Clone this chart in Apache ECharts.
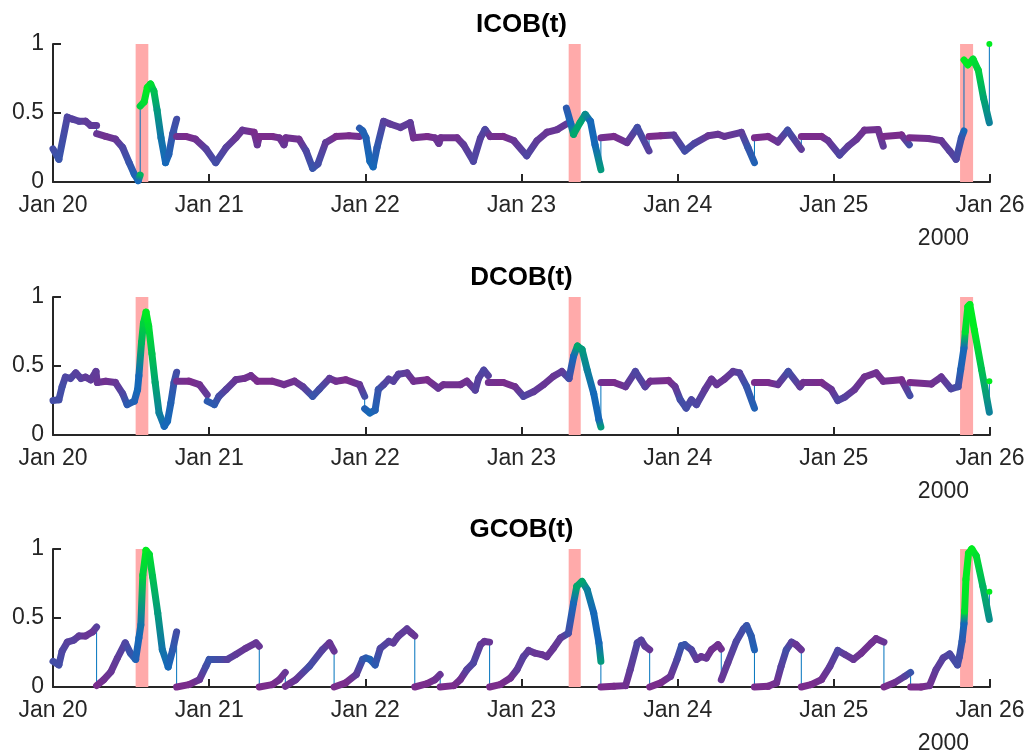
<!DOCTYPE html>
<html>
<head>
<meta charset="utf-8">
<script src="https://cdn.jsdelivr.net/npm/echarts@6/dist/echarts.min.js"></script>
<style>
  html, body { margin: 0; padding: 0; background: #ffffff; }
  #chart { width: 1032px; height: 755px; }
</style>
</head>
<body>
<div id="chart"></div>
<script>
// Hours since Jan 20 2000 00:00, index value, colour tone (0 = purple ... 1 = green).
// A repeated hour marks a discontinuity: only the thin connecting line spans it.
const icobPoints = [
  [0, 0.24, 0.3], [0.9, 0.165, 0.35], [2.2, 0.47, 0.25], [3.0, 0.455, 0.2], [4.0, 0.44, 0.2],
  [5.0, 0.44, 0.15], [5.8, 0.41, 0.15], [6.7, 0.41, 0.15], [6.7, 0.35, 0.1], [8.1, 0.33, 0.05],
  [9.6, 0.31, 0.1], [10.7, 0.25, 0.25], [11.7, 0.14, 0.35], [12.5, 0.056, 0.45], [13.1, 0.01, 0.5],
  [13.4, 0.05, 0.8], [13.4, 0.55, 0.9], [14.0, 0.58, 0.95], [14.5, 0.685, 1], [15.0, 0.71, 0.95],
  [15.5, 0.66, 0.85], [16.0, 0.52, 0.7], [16.6, 0.32, 0.55], [17.3, 0.14, 0.5], [17.8, 0.2, 0.45],
  [18.4, 0.35, 0.35], [19.0, 0.455, 0.3], [19.0, 0.33, 0.05], [20.4, 0.33, 0], [21.9, 0.31, 0.05],
  [23.5, 0.24, 0.2], [25.0, 0.14, 0.3], [26.6, 0.25, 0.2], [28.1, 0.32, 0.1], [29.1, 0.375, 0.1],
  [30.9, 0.36, 0], [31.4, 0.27, 0.1], [31.7, 0.33, 0], [33.7, 0.33, 0], [34.8, 0.32, 0.05],
  [35.5, 0.27, 0.1], [35.8, 0.32, 0.05], [37.8, 0.31, 0.05], [38.9, 0.225, 0.25], [39.9, 0.1, 0.35],
  [40.7, 0.13, 0.3], [41.9, 0.285, 0.15], [43.5, 0.33, 0], [45.5, 0.335, 0], [47.1, 0.33, 0.05],
  [47.1, 0.39, 0.4], [47.6, 0.37, 0.45], [48.1, 0.32, 0.45], [48.7, 0.15, 0.5], [49.2, 0.11, 0.5],
  [49.8, 0.25, 0.4], [50.8, 0.44, 0.2], [51.8, 0.42, 0.15], [53.4, 0.395, 0.15], [54.9, 0.43, 0.15],
  [55.4, 0.32, 0.05], [57.5, 0.33, 0], [58.7, 0.32, 0.05], [59.3, 0.28, 0.1], [59.6, 0.32, 0.05],
  [62.1, 0.32, 0.05], [63.1, 0.27, 0.15], [64.6, 0.15, 0.25], [65.7, 0.32, 0.2], [66.4, 0.38, 0.25],
  [67.2, 0.33, 0.05], [69.2, 0.33, 0], [70.8, 0.30, 0.1], [72.8, 0.19, 0.25], [74.4, 0.30, 0.15],
  [75.9, 0.36, 0.1], [77.5, 0.38, 0.1], [78.9, 0.42, 0.15], [78.9, 0.535, 0.4], [79.6, 0.42, 0.5],
  [80.0, 0.345, 0.75], [81.0, 0.43, 0.75], [81.8, 0.49, 0.65], [82.6, 0.44, 0.5], [83.3, 0.27, 0.5],
  [84.2, 0.09, 0.7], [84.2, 0.32, 0.05], [86.2, 0.33, 0], [88.2, 0.285, 0.1], [89.8, 0.395, 0.3],
  [91.6, 0.225, 0.2], [91.6, 0.33, 0], [93.4, 0.335, 0], [95.4, 0.34, 0.15], [97.1, 0.225, 0.3],
  [98.6, 0.28, 0.25], [100.7, 0.335, 0.1], [102.2, 0.346, 0.1], [103.2, 0.33, 0.1], [105.8, 0.36, 0.15],
  [106.8, 0.25, 0.35], [107.8, 0.14, 0.45], [107.8, 0.32, 0], [109.9, 0.33, 0], [111.4, 0.29, 0.1],
  [112.9, 0.375, 0.3], [115.0, 0.237, 0.15], [115.0, 0.33, 0], [118.1, 0.33, 0], [119.1, 0.30, 0.1],
  [120.9, 0.196, 0.25], [122.2, 0.26, 0.15], [123.5, 0.31, 0.1], [124.7, 0.375, 0.05], [126.8, 0.38, 0.05],
  [127.6, 0.26, 0.15], [127.6, 0.33, 0], [130.4, 0.34, 0], [131.6, 0.27, 0.3], [131.6, 0.32, 0],
  [134.5, 0.315, 0.05], [136.5, 0.30, 0.1], [137.8, 0.225, 0.2], [138.8, 0.165, 0.25], [139.6, 0.32, 0.35],
  [140.0, 0.37, 0.5], [140.0, 0.885, 1], [140.6, 0.85, 1], [141.4, 0.89, 0.95], [142.2, 0.81, 0.9],
  [143.0, 0.61, 0.75], [143.9, 0.43, 0.6], [143.9, 1.0, 1]
];

const dcobPoints = [
  [0, 0.25, 0.3], [0.9, 0.255, 0.3], [1.4, 0.35, 0.3], [1.9, 0.42, 0.25], [2.7, 0.41, 0.25],
  [3.5, 0.45, 0.2], [4.3, 0.41, 0.2], [5.0, 0.42, 0.15], [5.8, 0.40, 0.15], [6.6, 0.46, 0.15],
  [6.8, 0.38, 0.1], [8.1, 0.39, 0.05], [9.6, 0.38, 0.1], [10.7, 0.30, 0.25], [11.4, 0.22, 0.4],
  [12.5, 0.245, 0.45], [13.0, 0.33, 0.5], [13.2, 0.43, 0.5], [13.6, 0.67, 0.8], [13.9, 0.81, 0.9],
  [14.3, 0.89, 1], [14.7, 0.79, 0.95], [15.2, 0.59, 0.85], [15.7, 0.38, 0.75], [16.3, 0.16, 0.6],
  [17.1, 0.063, 0.5], [17.6, 0.10, 0.5], [18.1, 0.23, 0.45], [18.6, 0.38, 0.35], [19.0, 0.455, 0.3],
  [19.0, 0.39, 0.05], [20.9, 0.39, 0], [22.5, 0.365, 0.05], [23.7, 0.29, 0.15], [23.7, 0.245, 0.4],
  [24.8, 0.22, 0.4], [25.5, 0.28, 0.3], [26.6, 0.33, 0.2], [28.1, 0.40, 0.1], [29.4, 0.41, 0.05],
  [30.4, 0.43, 0.05], [31.4, 0.39, 0], [33.7, 0.39, 0], [35.5, 0.365, 0.05], [37.1, 0.39, 0.05],
  [38.4, 0.35, 0.15], [39.9, 0.28, 0.35], [40.9, 0.33, 0.3], [42.5, 0.41, 0.15], [43.5, 0.39, 0.05],
  [45.0, 0.40, 0], [47.1, 0.365, 0.1], [47.9, 0.28, 0.3], [47.9, 0.19, 0.45], [48.7, 0.16, 0.5],
  [49.5, 0.18, 0.45], [50.0, 0.33, 0.35], [50.8, 0.365, 0.25], [51.6, 0.405, 0.2], [52.3, 0.39, 0.2],
  [53.1, 0.44, 0.2], [54.4, 0.45, 0.15], [55.4, 0.39, 0.05], [57.5, 0.40, 0], [59.2, 0.34, 0.1],
  [60.0, 0.365, 0.05], [62.6, 0.365, 0.05], [63.6, 0.39, 0.05], [64.9, 0.325, 0.2], [65.4, 0.41, 0.2],
  [66.2, 0.47, 0.25], [66.9, 0.43, 0.2], [66.9, 0.38, 0.05], [69.2, 0.38, 0], [71.0, 0.35, 0.05],
  [72.3, 0.28, 0.25], [73.9, 0.315, 0.15], [75.4, 0.365, 0.1], [76.9, 0.425, 0.1], [78.2, 0.46, 0.15],
  [79.3, 0.41, 0.3], [80.0, 0.57, 0.5], [80.6, 0.645, 0.75], [81.3, 0.62, 0.7], [82.1, 0.47, 0.6],
  [83.1, 0.30, 0.5], [83.9, 0.11, 0.5], [84.2, 0.058, 0.7], [84.2, 0.38, 0.05], [86.2, 0.38, 0],
  [88.0, 0.35, 0.1], [89.5, 0.46, 0.25], [91.0, 0.35, 0.2], [91.8, 0.39, 0.05], [94.6, 0.395, 0],
  [95.6, 0.35, 0.1], [96.4, 0.255, 0.3], [97.3, 0.195, 0.3], [98.1, 0.255, 0.25], [98.9, 0.22, 0.25],
  [100.2, 0.33, 0.15], [101.2, 0.405, 0.1], [102.0, 0.365, 0.1], [103.2, 0.405, 0.1], [104.5, 0.46, 0.15],
  [105.5, 0.45, 0.2], [106.6, 0.35, 0.35], [107.8, 0.195, 0.45], [107.8, 0.38, 0], [109.9, 0.38, 0],
  [111.4, 0.365, 0.1], [113.0, 0.46, 0.3], [114.8, 0.35, 0.15], [115.3, 0.38, 0.05], [118.1, 0.38, 0],
  [119.6, 0.33, 0.1], [120.6, 0.25, 0.25], [121.7, 0.275, 0.2], [123.2, 0.33, 0.1], [124.7, 0.42, 0.05],
  [126.5, 0.45, 0.05], [127.6, 0.39, 0.05], [130.4, 0.40, 0], [131.7, 0.285, 0.3], [131.7, 0.38, 0],
  [135.0, 0.37, 0.05], [136.5, 0.42, 0.1], [138.0, 0.335, 0.25], [139.1, 0.35, 0.3], [139.5, 0.475, 0.45],
  [140.0, 0.63, 0.5], [140.2, 0.75, 0.95], [140.6, 0.93, 1], [140.9, 0.945, 1], [141.6, 0.76, 1],
  [142.7, 0.475, 0.85], [143.9, 0.165, 0.6], [143.9, 0.39, 1]
];

const gcobPoints = [
  [0, 0.186, 0.3], [0.9, 0.16, 0.3], [1.4, 0.26, 0.25], [2.2, 0.325, 0.2], [3.2, 0.34, 0.2],
  [4.0, 0.37, 0.15], [5.0, 0.37, 0.1], [6.1, 0.40, 0.1], [6.7, 0.435, 0.2], [6.7, 0.01, 0],
  [7.8, 0.053, 0.05], [8.9, 0.11, 0.1], [9.9, 0.21, 0.15], [11.1, 0.32, 0.25], [11.9, 0.245, 0.35],
  [12.7, 0.20, 0.45], [13.2, 0.355, 0.5], [13.5, 0.45, 0.55], [13.8, 0.81, 0.9], [14.3, 0.99, 1],
  [14.8, 0.96, 0.95], [15.3, 0.80, 0.85], [16.1, 0.536, 0.7], [16.8, 0.27, 0.55], [17.7, 0.145, 0.5],
  [18.4, 0.27, 0.4], [19.0, 0.40, 0.3], [19.0, 0.0, 0], [20.9, 0.017, 0], [22.5, 0.053, 0.1],
  [23.5, 0.15, 0.3], [24.0, 0.20, 0.35], [25.5, 0.20, 0.3], [26.8, 0.20, 0.2], [28.1, 0.235, 0.15],
  [29.6, 0.28, 0.1], [31.2, 0.32, 0.1], [31.7, 0.295, 0.1], [31.7, 0.0, 0], [33.7, 0.017, 0],
  [34.8, 0.053, 0.05], [35.7, 0.106, 0.1], [35.7, 0.005, 0.05], [37.3, 0.053, 0.1], [39.4, 0.15, 0.3],
  [41.4, 0.27, 0.2], [42.5, 0.32, 0.1], [43.2, 0.26, 0.1], [43.2, 0.0, 0], [45.0, 0.03, 0],
  [46.6, 0.09, 0.15], [47.6, 0.20, 0.35], [48.1, 0.21, 0.4], [48.7, 0.20, 0.45], [49.5, 0.16, 0.4],
  [50.3, 0.28, 0.25], [51.6, 0.33, 0.2], [52.3, 0.32, 0.15], [53.1, 0.37, 0.15], [54.4, 0.42, 0.15],
  [55.1, 0.39, 0.1], [55.6, 0.37, 0.1], [55.6, 0.0, 0], [57.5, 0.024, 0], [58.7, 0.053, 0.05],
  [59.5, 0.09, 0.1], [59.5, 0.0, 0], [61.6, 0.01, 0], [62.6, 0.053, 0.05], [63.6, 0.125, 0.2],
  [64.6, 0.174, 0.25], [65.7, 0.307, 0.15], [66.3, 0.33, 0.1], [67.1, 0.325, 0.1], [67.1, 0.0, 0],
  [68.7, 0.017, 0], [70.3, 0.065, 0.05], [71.3, 0.125, 0.15], [72.3, 0.22, 0.2], [73.1, 0.265, 0.15],
  [74.1, 0.245, 0.1], [75.1, 0.235, 0.1], [75.9, 0.22, 0.1], [76.9, 0.28, 0.1], [78.0, 0.355, 0.15],
  [79.2, 0.39, 0.3], [80.0, 0.61, 0.5], [80.5, 0.73, 0.75], [81.3, 0.765, 0.75], [82.1, 0.705, 0.6],
  [83.1, 0.536, 0.5], [83.9, 0.32, 0.5], [84.2, 0.186, 0.7], [84.2, 0.0, 0], [86.2, 0.005, 0],
  [88.0, 0.01, 0.05], [88.7, 0.125, 0.15], [89.8, 0.32, 0.25], [90.4, 0.34, 0.2], [91.0, 0.295, 0.15],
  [91.7, 0.27, 0.1], [91.7, 0.0, 0], [93.4, 0.03, 0], [94.9, 0.077, 0.1], [95.9, 0.20, 0.25],
  [96.6, 0.30, 0.35], [97.1, 0.307, 0.35], [98.1, 0.27, 0.25], [98.9, 0.20, 0.15], [99.6, 0.22, 0.1],
  [100.4, 0.21, 0.1], [101.2, 0.27, 0.05], [102.2, 0.307, 0.05], [102.7, 0.275, 0.05], [102.7, 0.053, 0.1],
  [103.7, 0.174, 0.15], [105.0, 0.33, 0.25], [106.1, 0.42, 0.3], [106.6, 0.445, 0.35], [107.3, 0.37, 0.4],
  [107.8, 0.27, 0.45], [107.8, 0.0, 0], [109.9, 0.005, 0], [111.2, 0.03, 0.05], [111.9, 0.15, 0.2],
  [112.7, 0.27, 0.3], [113.5, 0.325, 0.2], [114.2, 0.307, 0.1], [115.0, 0.27, 0.1], [115.0, 0.0, 0],
  [116.5, 0.017, 0], [118.1, 0.053, 0.05], [119.4, 0.15, 0.15], [120.6, 0.265, 0.25], [121.7, 0.235, 0.15],
  [123.0, 0.20, 0.1], [124.2, 0.245, 0.05], [125.8, 0.32, 0.05], [126.5, 0.35, 0.05], [127.7, 0.325, 0.1],
  [127.7, 0.0, 0], [129.3, 0.03, 0.05], [130.9, 0.077, 0.2], [131.8, 0.106, 0.35], [131.8, 0.0, 0],
  [133.4, 0.0, 0], [134.7, 0.01, 0.05], [135.7, 0.125, 0.15], [136.8, 0.21, 0.2], [137.8, 0.24, 0.25],
  [139.0, 0.16, 0.3], [139.3, 0.22, 0.3], [139.7, 0.33, 0.4], [140.0, 0.46, 0.5], [140.1, 0.55, 0.95],
  [140.3, 0.78, 1], [140.7, 0.97, 1], [141.2, 1.0, 1], [141.9, 0.95, 0.95], [142.9, 0.73, 0.8],
  [143.9, 0.49, 0.65], [143.9, 0.69, 1]
];

// Shaded event windows (hours since Jan 20 00:00)
const eventStart = [12.7, 79.25, 139.4];
const eventEnd = [14.65, 81.1, 141.4];

const panelTitles = ['ICOB(t)', 'DCOB(t)', 'GCOB(t)'];
const panelPoints = [icobPoints, dcobPoints, gcobPoints];
const dayTickLabels = ['Jan 20', 'Jan 21', 'Jan 22', 'Jan 23', 'Jan 24', 'Jan 25', 'Jan 26'];
const yearLabel = '2000';

const FONT = 'Liberation Sans, Arial, Helvetica, sans-serif';
const INK = '#262626';
const panelTops = [44, 297, 549];
const PLOT_LEFT = 53, PLOT_WIDTH = 937, PLOT_HEIGHT = 138;

// purple -> blue -> green colour scale
const toneStops = [
  [0.00, [122, 44, 140]],
  [0.25, [78, 70, 162]],
  [0.50, [22, 104, 184]],
  [0.75, [0, 166, 110]],
  [1.00, [0, 236, 32]]
];
function toneColor(t) {
  t = Math.max(0, Math.min(1, t));
  for (let i = 1; i < toneStops.length; i++) {
    const [t1, c1] = toneStops[i];
    const [t0, c0] = toneStops[i - 1];
    if (t <= t1) {
      const f = (t - t0) / (t1 - t0);
      const c = c0.map((v, k) => Math.round(v + (c1[k] - v) * f));
      return 'rgb(' + c.join(',') + ')';
    }
  }
  return 'rgb(0,236,32)';
}

// thick coloured pieces between consecutive samples; isolated samples become dots
function buildPieces(points) {
  const pieces = [];
  for (let i = 0; i < points.length; i++) {
    const p = points[i];
    const prevJump = i === 0 || points[i - 1][0] === p[0];
    const nextJump = i === points.length - 1 || points[i + 1][0] === p[0];
    if (prevJump && nextJump) {
      pieces.push([p[0], p[1], p[0], p[1], p[2], p[2]]);
    }
    if (i > 0 && points[i - 1][0] !== p[0]) {
      const q = points[i - 1];
      pieces.push([q[0], q[1], p[0], p[1], q[2], p[2]]);
    }
  }
  return pieces;
}

function renderPiece(params, api) {
  const a = api.coord([api.value(0), api.value(1)]);
  const b = api.coord([api.value(2), api.value(3)]);
  const ca = toneColor(api.value(4));
  const cb = toneColor(api.value(5));
  if (a[0] === b[0] && a[1] === b[1]) {
    return { type: 'circle', shape: { cx: a[0], cy: a[1], r: 3 }, style: { fill: ca } };
  }
  return {
    type: 'line',
    shape: { x1: a[0], y1: a[1], x2: b[0], y2: b[1] },
    style: {
      stroke: new echarts.graphic.LinearGradient(a[0], a[1], b[0], b[1],
        [{ offset: 0, color: ca }, { offset: 1, color: cb }], true),
      lineWidth: 7,
      lineCap: 'round',
      lineJoin: 'round'
    }
  };
}

function renderBand(params, api) {
  const a = api.coord([api.value(0), api.value(3)]);
  const b = api.coord([api.value(1), api.value(2)]);
  return {
    type: 'rect',
    shape: { x: a[0], y: a[1], width: b[0] - a[0], height: b[1] - a[1] },
    style: { fill: '#ffaaaa' }
  };
}

const grids = [], xAxes = [], yAxes = [], series = [], graphics = [];
const bandData = eventStart.map((s, i) => [s, eventEnd[i], 0, 1]);

panelTitles.forEach((title, k) => {
  const top = panelTops[k];
  grids.push({ left: PLOT_LEFT, top: top, width: PLOT_WIDTH, height: PLOT_HEIGHT });
  xAxes.push({
    gridIndex: k, type: 'value', min: 0, max: 144, interval: 24,
    axisLine: { show: true, onZero: false, lineStyle: { color: INK, width: 2 } },
    axisTick: { show: true, inside: true, length: 8, lineStyle: { color: INK, width: 2 } },
    axisLabel: {
      color: INK, fontSize: 23, fontFamily: FONT, margin: 12,
      showMinLabel: true, showMaxLabel: true,
      formatter: v => dayTickLabels[Math.round(v / 24)]
    },
    splitLine: { show: false }
  });
  yAxes.push({
    gridIndex: k, type: 'value', min: 0, max: 1, interval: 0.5,
    axisLine: { show: true, lineStyle: { color: INK, width: 2 } },
    axisTick: { show: true, inside: true, length: 8, lineStyle: { color: INK, width: 2 } },
    axisLabel: { color: INK, fontSize: 23, fontFamily: FONT, margin: 9 },
    splitLine: { show: false }
  });
  const pts = panelPoints[k];
  series.push({
    type: 'custom', xAxisIndex: k, yAxisIndex: k, z: 1, silent: true,
    renderItem: renderBand, encode: { x: [0, 1], y: [2, 3] }, data: bandData
  });
  series.push({
    type: 'line', xAxisIndex: k, yAxisIndex: k, z: 2, silent: true,
    showSymbol: false, symbol: 'none',
    lineStyle: { color: '#0072BD', width: 1 },
    data: pts.map(p => [p[0], p[1]])
  });
  series.push({
    type: 'custom', xAxisIndex: k, yAxisIndex: k, z: 3, silent: true,
    renderItem: renderPiece, encode: { x: [0, 2], y: [1, 3] }, data: buildPieces(pts)
  });
  graphics.push({
    type: 'text', silent: true,
    style: {
      text: title, x: PLOT_LEFT + PLOT_WIDTH / 2, y: top - 19,
      textAlign: 'center', textVerticalAlign: 'middle',
      font: 'bold 26px ' + FONT, fill: '#000000'
    }
  });
  graphics.push({
    type: 'text', silent: true,
    style: {
      text: yearLabel, x: 969, y: top + PLOT_HEIGHT + 57,
      textAlign: 'right', textVerticalAlign: 'middle',
      font: '23px ' + FONT, fill: INK
    }
  });
});

const chart = echarts.init(document.getElementById('chart'), null, { renderer: 'canvas' });
chart.setOption({
  animation: false,
  backgroundColor: '#ffffff',
  grid: grids,
  xAxis: xAxes,
  yAxis: yAxes,
  series: series,
  graphic: graphics
});
</script>
</body>
</html>
